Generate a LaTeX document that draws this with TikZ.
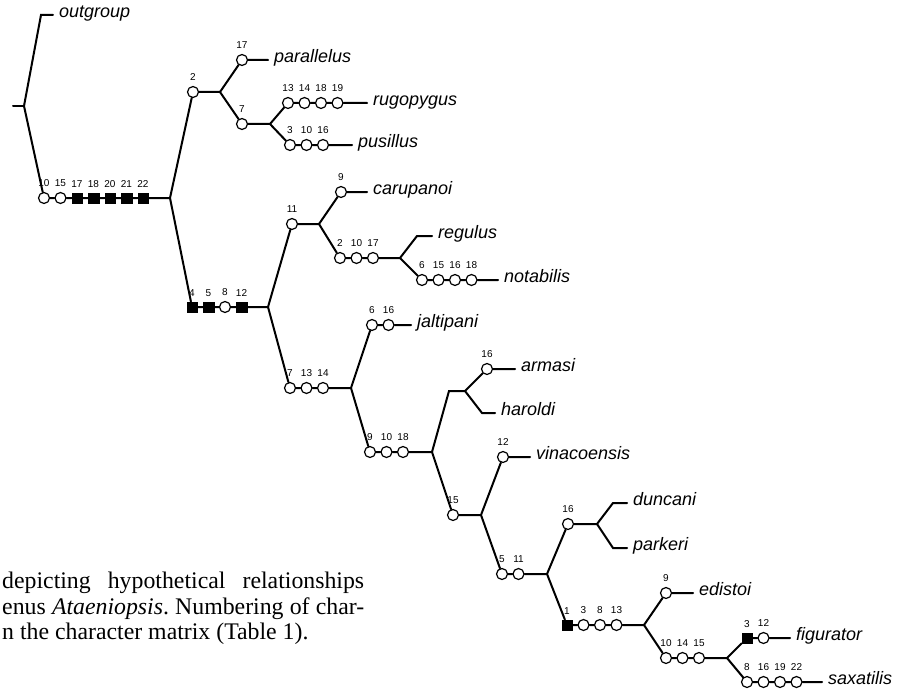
\documentclass[tikz,border=0pt]{standalone}
\usepackage{fontspec}
\setmainfont{Liberation Serif}
\setsansfont{Liberation Sans}
\usepackage{tikz}
\frenchspacing
\tikzstyle{openchar} = [circle, draw, fill=white, line width=1.2pt, inner sep=0pt, minimum size=11pt]
\tikzstyle{solidchar} = [rectangle, draw, fill=black, line width=0.4pt, inner sep=0pt, minimum size=10.5pt]
\tikzstyle{taxon} = [anchor=mid west, inner xsep=6pt, inner ysep=0pt, font=\sffamily\itshape\fontsize{18}{18}\selectfont]
\tikzstyle{branch} = [draw, line width=2pt, line cap=round]
\tikzstyle{captext} = [anchor=north west, inner sep=0pt, text width=362pt, align=justify, font=\fontsize{23.8}{25.5}\selectfont]

\begin{document}
\begin{tikzpicture}[x=1pt, y=-1pt, node distance=16.5pt,
    every label/.style={font=\sffamily\fontsize{10}{10}\selectfont, inner sep=1pt},
    label distance=4pt]
    \useasboundingbox (0,0) rectangle (898,693);
    % Branch points
    \coordinate (base) at (13,106);
    \coordinate (root) at (24,106);
    \coordinate (kOut) at (41,15);
    \coordinate (n1) at (170,198);
    \coordinate (n2) at (220,92);
    \coordinate (n3) at (270,124);
    \coordinate (n4) at (268,307);
    \coordinate (n5) at (319,224);
    \coordinate (n6) at (400,258);
    \coordinate (kReg) at (417,236);
    \coordinate (n7) at (351,388);
    \coordinate (n8) at (432,452);
    \coordinate (kN9) at (449,391);
    \coordinate (n9) at (465,391);
    \coordinate (kHar) at (482,413);
    \coordinate (n10) at (481,515);
    \coordinate (n11) at (547,574);
    \coordinate (n12) at (597,524);
    \coordinate (kDun) at (613,503);
    \coordinate (kPar) at (613,548);
    \coordinate (n13) at (644,625);
    \coordinate (n14) at (727,658);

    % Place characters
    \node [openchar, label=above:10] (ing10) at (44,198) {};
    \node [openchar, label=above:15, right of=ing10] (ing15) {};
    \node [solidchar, label=above:17, right of=ing15] (ing17) {};
    \node [solidchar, label=above:18, right of=ing17] (ing18) {};
    \node [solidchar, label=above:20, right of=ing18] (ing20) {};
    \node [solidchar, label=above:21, right of=ing20] (ing21) {};
    \node [solidchar, label=above:22, right of=ing21] (ing22) {};
    \node [openchar, label=above:2] (b2) at (193,92) {};
    \node [openchar, label=above:17] (par17) at (242,60) {};
    \node [openchar, label=above:7] (c7) at (242,124) {};
    \node [openchar, label=above:13] (rug13) at (288,103) {};
    \node [openchar, label=above:14, right of=rug13] (rug14) {};
    \node [openchar, label=above:18, right of=rug14] (rug18) {};
    \node [openchar, label=above:19, right of=rug18] (rug19) {};
    \node [openchar, label=above:3] (pus3) at (290,145) {};
    \node [openchar, label=above:10, right of=pus3] (pus10) {};
    \node [openchar, label=above:16, right of=pus10] (pus16) {};
    \node [solidchar, label=above:4] (d4) at (192,307) {};
    \node [solidchar, label=above:5, right of=d4] (d5) {};
    \node [openchar, label=above:8, right of=d5] (d8) {};
    \node [solidchar, label=above:12, right of=d8] (d12) {};
    \node [openchar, label=above:11] (e11) at (292,224) {};
    \node [openchar, label=above:9] (car9) at (341,192) {};
    \node [openchar, label=above:2] (f2) at (340,258) {};
    \node [openchar, label=above:10, right of=f2] (f10) {};
    \node [openchar, label=above:17, right of=f10] (f17) {};
    \node [openchar, label=above:6] (not6) at (422,280) {};
    \node [openchar, label=above:15, right of=not6] (not15) {};
    \node [openchar, label=above:16, right of=not15] (not16) {};
    \node [openchar, label=above:18, right of=not16] (not18) {};
    \node [openchar, label=above:7] (g7) at (290,388) {};
    \node [openchar, label=above:13, right of=g7] (g13) {};
    \node [openchar, label=above:14, right of=g13] (g14) {};
    \node [openchar, label=above:6] (jal6) at (372,325) {};
    \node [openchar, label=above:16, right of=jal6] (jal16) {};
    \node [openchar, label=above:9] (h9) at (370,452) {};
    \node [openchar, label=above:10, right of=h9] (h10) {};
    \node [openchar, label=above:18, right of=h10] (h18) {};
    \node [openchar, label=above:16] (arm16) at (487,369) {};
    \node [openchar, label=above:15] (i15) at (453,515) {};
    \node [openchar, label=above:12] (vin12) at (503,457) {};
    \node [openchar, label=above:5] (j5) at (502,574) {};
    \node [openchar, label=above:11, right of=j5] (j11) {};
    \node [openchar, label=above:16] (k16) at (568,524) {};
    \node [solidchar, label=above:1] (l1) at (567,625) {};
    \node [openchar, label=above:3, right of=l1] (l3) {};
    \node [openchar, label=above:8, right of=l3] (l8) {};
    \node [openchar, label=above:13, right of=l8] (l13) {};
    \node [openchar, label=above:9] (edi9) at (666,593) {};
    \node [openchar, label=above:10] (m10) at (666,658) {};
    \node [openchar, label=above:14, right of=m10] (m14) {};
    \node [openchar, label=above:15, right of=m14] (m15) {};
    \node [solidchar, label=above:3] (fig3) at (747,638) {};
    \node [openchar, label=above:12, right of=fig3] (fig12) {};
    \node [openchar, label=above:8] (sax8) at (747,682) {};
    \node [openchar, label=above:16, right of=sax8] (sax16) {};
    \node [openchar, label=above:19, right of=sax16] (sax19) {};
    \node [openchar, label=above:22, right of=sax19] (sax22) {};

    % Place taxa
    \node [taxon] (outgroup) at (53,15) {outgroup};
    \node [taxon] (parallelus) at (268,60) {parallelus};
    \node [taxon] (rugopygus) at (367,103) {rugopygus};
    \node [taxon] (pusillus) at (352,145) {pusillus};
    \node [taxon] (carupanoi) at (367,192) {carupanoi};
    \node [taxon] (regulus) at (432,236) {regulus};
    \node [taxon] (notabilis) at (498,280) {notabilis};
    \node [taxon] (jaltipani) at (411,325) {jaltipani};
    \node [taxon] (armasi) at (515,369) {armasi};
    \node [taxon] (haroldi) at (495,413) {haroldi};
    \node [taxon] (vinacoensis) at (530,457) {vinacoensis};
    \node [taxon] (duncani) at (627,503) {duncani};
    \node [taxon] (parkeri) at (627,548) {parkeri};
    \node [taxon] (edistoi) at (693,593) {edistoi};
    \node [taxon] (figurator) at (790,638) {figurator};
    \node [taxon] (saxatilis) at (822,682) {saxatilis};

    \node [captext] (cap) at (2,572) {depicting hypothetical relationships\linebreak
        enus \textit{Ataeniopsis}. Numbering of char-\linebreak
        n the character matrix (Table 1).};

    % Draw branches
    \path [branch] (base) -- (root);
    \path [branch] (root) -- (kOut) -- (outgroup.mid west);
    \path [branch] (root) -- (ing10) -- (ing15) -- (ing17) -- (ing18) -- (ing20) -- (ing21) -- (ing22) -- (n1);
    \path [branch] (n1) -- (b2) -- (n2);
    \path [branch] (n2) -- (par17) -- (parallelus.mid west);
    \path [branch] (n2) -- (c7) -- (n3);
    \path [branch] (n3) -- (rug13) -- (rug14) -- (rug18) -- (rug19) -- (rugopygus.mid west);
    \path [branch] (n3) -- (pus3) -- (pus10) -- (pus16) -- (pusillus.mid west);
    \path [branch] (n1) -- (d4) -- (d5) -- (d8) -- (d12) -- (n4);
    \path [branch] (n4) -- (e11) -- (n5);
    \path [branch] (n5) -- (car9) -- (carupanoi.mid west);
    \path [branch] (n5) -- (f2) -- (f10) -- (f17) -- (n6);
    \path [branch] (n6) -- (kReg) -- (regulus.mid west);
    \path [branch] (n6) -- (not6) -- (not15) -- (not16) -- (not18) -- (notabilis.mid west);
    \path [branch] (n4) -- (g7) -- (g13) -- (g14) -- (n7);
    \path [branch] (n7) -- (jal6) -- (jal16) -- (jaltipani.mid west);
    \path [branch] (n7) -- (h9) -- (h10) -- (h18) -- (n8);
    \path [branch] (n8) -- (kN9) -- (n9);
    \path [branch] (n9) -- (arm16) -- (armasi.mid west);
    \path [branch] (n9) -- (kHar) -- (haroldi.mid west);
    \path [branch] (n8) -- (i15) -- (n10);
    \path [branch] (n10) -- (vin12) -- (vinacoensis.mid west);
    \path [branch] (n10) -- (j5) -- (j11) -- (n11);
    \path [branch] (n11) -- (k16) -- (n12);
    \path [branch] (n12) -- (kDun) -- (duncani.mid west);
    \path [branch] (n12) -- (kPar) -- (parkeri.mid west);
    \path [branch] (n11) -- (l1) -- (l3) -- (l8) -- (l13) -- (n13);
    \path [branch] (n13) -- (edi9) -- (edistoi.mid west);
    \path [branch] (n13) -- (m10) -- (m14) -- (m15) -- (n14);
    \path [branch] (n14) -- (fig3) -- (fig12) -- (figurator.mid west);
    \path [branch] (n14) -- (sax8) -- (sax16) -- (sax19) -- (sax22) -- (saxatilis.mid west);
\end{tikzpicture}
\end{document}
